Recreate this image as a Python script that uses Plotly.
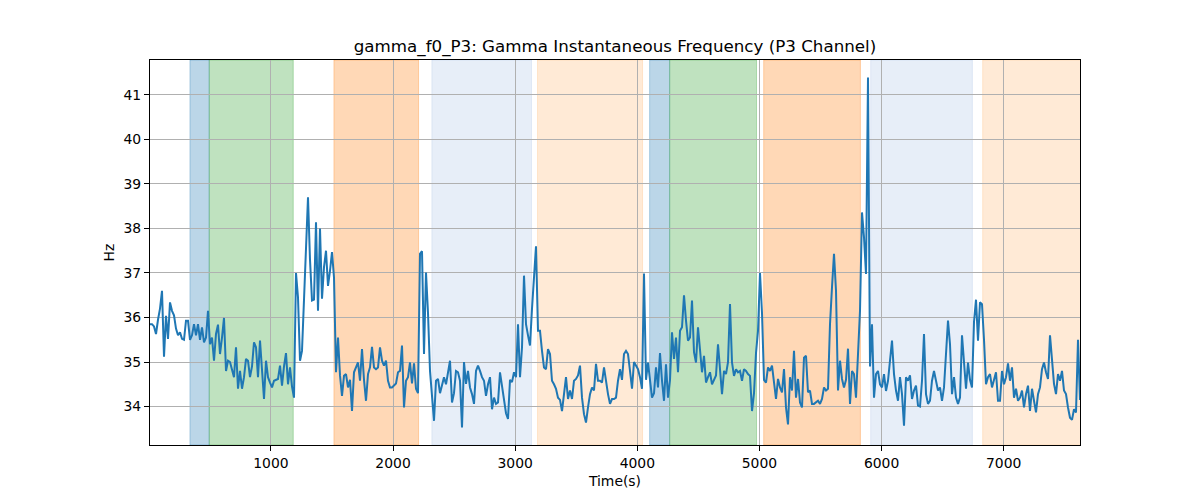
import plotly.graph_objects as go

TITLE = "gamma_f0_P3: Gamma Instantaneous Frequency (P3 Channel)"
X_LABEL = "Time(s)"
Y_LABEL = "Hz"

T_START = 10.0
T_STEP = 16.376

seg1 = [35.85, 35.85, 35.8, 35.63, 35.95, 36.2, 36.6, 35.12, 36.04, 35.52,
        36.34, 36.15, 36.05, 35.75, 35.6, 35.67, 35.52, 35.5, 35.93, 35.93,
        35.5, 35.6, 35.85, 35.6, 35.85, 35.5, 35.78, 35.44, 35.55, 36.15,
        35.4, 35.55, 35.03, 35.63, 35.84, 35.18, 35.55, 35.99, 34.8, 35.03,
        35.0, 34.85, 34.66, 35.33, 34.4, 34.8, 34.4, 34.66, 35.07, 35.03,
        34.66, 34.9, 35.44, 35.33, 34.66, 35.48, 34.88, 34.17]
seg2 = [35.03, 34.66, 34.54, 34.43, 34.58, 34.6, 34.62, 34.92, 34.47, 34.9,
        35.2, 34.5, 34.88, 34.45, 34.2, 37.0, 36.45, 35.03, 35.25, 36.4,
        37.6, 38.7, 37.3, 36.38, 36.4, 38.14, 36.15, 38.0, 36.42, 37.13,
        37.5, 36.71, 37.05, 37.47, 36.9, 34.77, 35.55, 34.7, 34.24, 34.69,
        34.73, 34.43, 34.6, 33.9, 34.77, 34.88, 34.99, 34.58, 35.29, 34.6,
        34.13, 34.73, 34.88, 35.34, 34.88, 34.84, 34.88, 35.33]
seg3 = [35.03, 34.92, 35.03, 34.58, 34.43, 34.43, 34.47, 34.52, 34.77, 34.8,
        35.37, 33.98, 34.58, 34.66, 34.99, 34.52, 34.97, 34.4, 34.3, 37.43,
        37.49, 35.18, 37.01, 36.1, 34.8, 34.28, 33.68, 34.58, 34.62, 34.3,
        34.47, 34.66, 34.5, 34.82, 35.03, 34.09, 34.3, 34.8, 34.77, 34.58,
        33.53, 35.0, 34.51, 34.8, 34.43, 34.28, 34.06, 34.8, 34.92, 34.8,
        34.66, 34.58, 34.24, 34.5, 34.66, 33.94, 34.2, 34.06]
seg4 = [34.09, 34.77, 34.43, 34.09, 33.85, 33.72, 34.6, 34.55, 34.77, 34.66,
        35.85, 34.66, 35.33, 36.94, 35.85, 35.6, 35.37, 36.2, 36.9, 37.6,
        35.7, 35.7, 35.25, 34.88, 34.84, 35.29, 35.18, 34.58, 34.5, 34.4,
        34.2, 34.15, 33.9, 34.36, 34.66, 34.17, 34.36, 34.17, 34.58, 34.62,
        34.7, 34.92, 34.2, 33.83, 33.64, 33.98, 34.28, 34.43, 34.36, 34.96,
        34.58, 34.58, 34.54, 34.88, 34.54, 34.28, 34.06, 34.17]
seg5 = [34.17, 34.2, 34.58, 34.84, 34.6, 35.18, 35.25, 35.18, 34.8, 34.4,
        35.0, 34.92, 34.84, 34.66, 34.4, 36.99, 34.6, 34.99, 34.6, 34.2,
        34.3, 34.88, 34.43, 35.2, 34.58, 34.13, 34.95, 34.2, 34.6, 35.67,
        35.07, 35.55, 34.77, 35.7, 35.78, 36.5, 35.93, 35.48, 35.55, 36.38,
        35.22, 34.99, 35.78, 35.18, 34.77, 35.14, 34.54, 34.66, 34.77, 34.5,
        34.62, 34.7, 35.4, 34.73, 34.28, 34.8, 34.73, 35.0]
seg6 = [36.3, 34.99, 34.69, 34.84, 34.77, 34.8, 34.58, 34.84, 34.8, 34.73,
        34.69, 33.9, 34.3, 35.2, 35.7, 37.0, 36.1, 34.6, 34.54, 34.88,
        34.8, 34.92, 34.58, 34.17, 34.62, 34.43, 34.32, 34.84, 33.98, 33.6,
        34.66, 34.36, 35.25, 34.2, 34.62, 34.09, 33.98, 35.1, 35.14, 34.32,
        34.36, 34.06, 34.06, 34.09, 34.13, 34.06, 34.17, 34.43, 34.36, 34.4,
        35.85, 36.68, 37.43, 36.6, 34.36, 35.03, 34.62, 34.43]
seg7 = [34.6, 35.3, 34.06, 34.8, 34.73, 34.2, 35.26, 36.15, 38.36, 37.8,
        36.98, 41.39, 34.9, 35.85, 34.2, 34.73, 34.8, 34.5, 34.43, 34.73,
        34.35, 34.58, 35.03, 35.48, 34.73, 34.36, 34.13, 34.66, 34.28, 33.57,
        34.66, 34.58, 34.7, 34.17, 34.36, 34.47, 34.02, 34.0, 34.58, 35.63,
        34.28, 34.06, 34.13, 34.58, 34.8, 34.58, 34.36, 34.43, 34.13, 34.43,
        35.18, 35.93, 35.4, 34.28, 34.66, 34.2, 34.06, 34.2]
seg8 = [35.6, 34.88, 34.4, 34.99, 34.6, 34.43, 35.9, 36.4, 35.48, 36.34,
        36.3, 35.5, 34.5, 34.66, 34.73, 34.43, 34.58, 34.77, 34.13, 34.13,
        34.8, 34.5, 34.66, 34.97, 34.58, 34.88, 34.2, 34.4, 34.13, 34.2,
        34.36, 33.98, 34.28, 34.47, 33.9, 34.4, 34.13, 33.87, 34.28, 34.43,
        34.84, 34.99, 34.77, 34.62, 35.6, 35.03, 34.51, 34.28, 34.73, 34.58,
        34.8, 34.36, 34.28, 33.98, 33.75, 33.7, 33.94, 33.87, 35.5, 34.15]

freq = seg1 + seg2 + seg3 + seg4 + seg5 + seg6 + seg7 + seg8
times = [T_START + T_STEP * i for i in range(len(freq))]

span_starts = [337, 495, 1516, 2318, 3183, 4101, 4265, 5035, 5911, 6828]
span_ends = [495, 1183, 2209, 3134, 4043, 4265, 4976, 5827, 6744, 7700]
span_colors = ["rgba(31,119,180,0.3)", "rgba(44,160,44,0.3)", "rgba(255,127,14,0.3)",
               "rgba(174,199,232,0.3)", "rgba(255,187,120,0.3)",
               "rgba(31,119,180,0.3)", "rgba(44,160,44,0.3)", "rgba(255,127,14,0.3)",
               "rgba(174,199,232,0.3)", "rgba(255,187,120,0.3)"]

x_ticks = [1000, 2000, 3000, 4000, 5000, 6000, 7000]
y_ticks = [34, 35, 36, 37, 38, 39, 40, 41]

fig = go.Figure()
fig.add_trace(go.Scatter(x=times, y=freq, mode="lines",
                         line=dict(color="#1f77b4", width=2), showlegend=False))

for s, e, c in zip(span_starts, span_ends, span_colors):
    fig.add_shape(type="rect", xref="x", yref="paper", x0=s, x1=e, y0=0, y1=1,
                  fillcolor=c, line=dict(color=c, width=1), layer="below")

ymin, ymax = min(freq), max(freq)
pad = (ymax - ymin) * 0.05

font = "DejaVu Sans"
fig.update_layout(
    width=1200, height=500,
    margin=dict(l=150, r=120, t=60, b=55),
    paper_bgcolor="white", plot_bgcolor="white",
    font=dict(family=font, size=14, color="black"),
    title=dict(text=TITLE, x=615 / 1200, xanchor="center", y=1 - 46 / 500,
               yanchor="middle", font=dict(family=font, size=16.7, color="black")),
)
fig.update_xaxes(range=[times[0], times[-1]], tickvals=x_ticks,
                 showgrid=True, gridcolor="#b0b0b0", gridwidth=1,
                 showline=True, linecolor="black", linewidth=1, mirror=True,
                 ticks="outside", ticklen=5, tickcolor="black", zeroline=False,
                 tickfont=dict(size=13.9),
                 title=dict(text=X_LABEL, standoff=6, font=dict(size=13.9)))
fig.update_yaxes(range=[ymin - pad, ymax + pad], tickvals=y_ticks,
                 showgrid=True, gridcolor="#b0b0b0", gridwidth=1,
                 showline=True, linecolor="black", linewidth=1, mirror=True,
                 ticks="outside", ticklen=5, tickcolor="black", zeroline=False,
                 tickfont=dict(size=13.9),
                 title=dict(text=Y_LABEL, standoff=5, font=dict(size=13.9)))

fig.write_html("out.html")
